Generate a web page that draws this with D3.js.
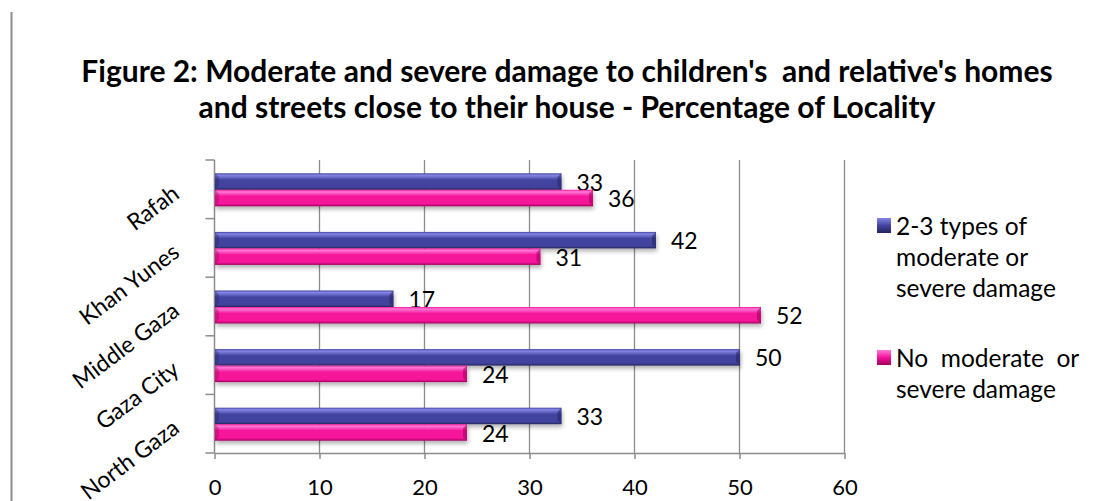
<!DOCTYPE html>
<html>
<head>
<meta charset="utf-8">
<script src="https://cdn.jsdelivr.net/npm/d3@7"></script>
<style>
  html, body { margin: 0; padding: 0; background: #fff; }
  svg { display: block; }
  text { font-family: Lato, "Open Sans", "DejaVu Sans", sans-serif; fill: #000; white-space: pre; }
</style>
</head>
<body>
<svg id="chart" width="1095" height="501"></svg>
<script>
// Localities, top to bottom
const categories = ["Rafah", "Khan Yunes", "Middle Gaza", "Gaza City", "North Gaza"];
// Percentage of children per locality
const damageValues = [33, 42, 17, 50, 33];
const noDamageValues = [36, 31, 52, 24, 24];
const xTicks = [0, 10, 20, 30, 40, 50, 60];
const titleLines = [
  "Figure 2: Moderate and severe damage to children's  and relative's homes",
  "and streets close to their house - Percentage of Locality"
];

const W = 1095, H = 501;
const plot = { left: 214, right: 844, top: 160, bottom: 453 };
const svg = d3.select("#chart");

const series = [
  { key: "damage", values: damageValues, light: "#8585e6", mid: "#43439f", dark: "#25255e" },
  { key: "none", values: noDamageValues, light: "#ff7ad6", mid: "#f5129a", dark: "#a0005c" }
];

// gradients for the bevelled bars
const defs = svg.append("defs");
series.forEach(s => {
  const g = defs.append("linearGradient").attr("id", "grad-" + s.key)
    .attr("x1", 0).attr("y1", 0).attr("x2", 0).attr("y2", 1);
  g.append("stop").attr("offset", "0%").attr("stop-color", s.mid);
  g.append("stop").attr("offset", "12%").attr("stop-color", s.light);
  g.append("stop").attr("offset", "40%").attr("stop-color", s.mid);
  g.append("stop").attr("offset", "85%").attr("stop-color", s.mid);
  g.append("stop").attr("offset", "100%").attr("stop-color", s.dark);
  const m = defs.append("linearGradient").attr("id", "mark-" + s.key)
    .attr("x1", 0).attr("y1", 0).attr("x2", 0).attr("y2", 1);
  m.append("stop").attr("offset", "0%").attr("stop-color", s.light);
  m.append("stop").attr("offset", "50%").attr("stop-color", s.mid);
  m.append("stop").attr("offset", "100%").attr("stop-color", s.dark);
});
const shadow = defs.append("filter").attr("id", "shadow")
  .attr("x", "-5%").attr("y", "-50%").attr("width", "110%").attr("height", "250%");
shadow.append("feGaussianBlur").attr("in", "SourceAlpha").attr("stdDeviation", 2);
shadow.append("feOffset").attr("dx", 1).attr("dy", 3).attr("result", "off");
shadow.append("feComponentTransfer").append("feFuncA").attr("type", "linear").attr("slope", 0.3);
const merge = shadow.append("feMerge");
merge.append("feMergeNode");
merge.append("feMergeNode").attr("in", "SourceGraphic");

// page border on the left
svg.append("line").attr("x1", 11.5).attr("x2", 11.5).attr("y1", 12).attr("y2", H)
  .attr("stroke", "#8c8c8c").attr("stroke-width", 2);

// title
svg.append("g").selectAll("text").data(titleLines).join("text")
  .attr("x", 567).attr("y", (d, i) => 82 + i * 36)
  .attr("text-anchor", "middle")
  .attr("font-size", 30).attr("font-weight", "bold")
  .text(d => d);

const x = d3.scaleLinear().domain([0, 60]).range([plot.left, plot.right]);
const y = d3.scaleBand().domain(categories).range([plot.top, plot.bottom]).paddingInner(0).paddingOuter(0);
const inner = d3.scaleBand().domain(series.map(s => s.key)).range([13.3, y.bandwidth() - 12.3]);

// vertical gridlines
svg.append("g").selectAll("line").data(xTicks.filter(t => t > 0)).join("line")
  .attr("x1", d => x(d) + 0.5).attr("x2", d => x(d) + 0.5)
  .attr("y1", plot.top).attr("y2", plot.bottom)
  .attr("stroke", "#8c8c8c").attr("stroke-width", 1.3);

// x axis
const xAxis = svg.append("g").attr("transform", `translate(0.5,${plot.bottom})`)
  .call(d3.axisBottom(x).tickValues(xTicks).tickSize(6).tickPadding(20).tickSizeOuter(0));
xAxis.select(".domain").attr("stroke", "#8c8c8c").attr("stroke-width", 1.5);
xAxis.selectAll(".tick line").attr("stroke", "#8c8c8c").attr("stroke-width", 1.5);
xAxis.selectAll(".tick text").attr("font-size", 22).attr("font-family", "Lato, sans-serif").attr("fill", "#000");

// y axis with tick marks between categories
const yAxisG = svg.append("g").attr("transform", `translate(${plot.left + 0.5},0)`);
yAxisG.append("line").attr("y1", plot.top).attr("y2", plot.bottom)
  .attr("stroke", "#8c8c8c").attr("stroke-width", 1.5);
const boundaries = categories.map(c => y(c)).concat([plot.bottom]);
yAxisG.selectAll("line.tk").data(boundaries).join("line").attr("class", "tk")
  .attr("x1", -9).attr("x2", 0).attr("y1", d => d).attr("y2", d => d)
  .attr("stroke", "#8c8c8c").attr("stroke-width", 1.5);

// category labels, rotated
svg.append("g").selectAll("text").data(categories).join("text")
  .attr("transform", d => `translate(176,${y(d) + y.bandwidth() / 2 + 1}) rotate(-37)`)
  .attr("text-anchor", "end").attr("dy", "0.35em")
  .attr("font-size", 23)
  .text(d => d);

// bars
series.forEach(s => {
  const g = svg.append("g");
  const rows = categories.map((c, i) => ({ c, v: s.values[i] }));
  const bh = inner.bandwidth();
  const bars = g.selectAll("g.bar").data(rows).join("g").attr("class", "bar")
    .attr("transform", d => `translate(${x(0) + 1},${y(d.c) + inner(s.key)})`);
  bars.append("rect")
    .attr("width", d => x(d.v) - x(0)).attr("height", bh)
    .attr("fill", `url(#grad-${s.key})`).attr("filter", "url(#shadow)");
  // bevel at the right end of each bar
  bars.append("path")
    .attr("d", d => {
      const w = x(d.v) - x(0), b = 4;
      return `M${w - b},${b} L${w},0 L${w},${bh} L${w - b},${bh - b} Z`;
    })
    .attr("fill", s.dark).attr("opacity", 0.55);
  // bevel at the left end
  bars.append("path")
    .attr("d", () => `M0,0 L4,4 L4,${bh - 4} L0,${bh} Z`)
    .attr("fill", s.dark).attr("opacity", 0.35);
  // value labels
  g.selectAll("text").data(rows).join("text")
    .attr("x", d => x(d.v) + 16)
    .attr("y", d => y(d.c) + inner(s.key) + bh / 2 + 1)
    .attr("dy", "0.35em").attr("font-size", 23)
    .text(d => d.v);
});

// legend
const legendItems = [
  { key: "damage", lines: ["2-3 types of", "moderate or", "severe damage"], y: 226 },
  { key: "none", lines: ["No  moderate  or", "severe damage"], y: 358 }
];
const lg = svg.append("g");
legendItems.forEach(item => {
  lg.append("rect").attr("x", 877).attr("y", item.y - 8).attr("width", 14).attr("height", 15)
    .attr("fill", `url(#mark-${item.key})`);
  lg.append("text").attr("x", 896).attr("y", item.y)
    .attr("font-size", 24.5)
    .selectAll("tspan").data(item.lines).join("tspan")
    .attr("x", 896).attr("dy", (d, i) => i === 0 ? "0.35em" : 31)
    .text(d => d);
});
</script>
</body>
</html>
